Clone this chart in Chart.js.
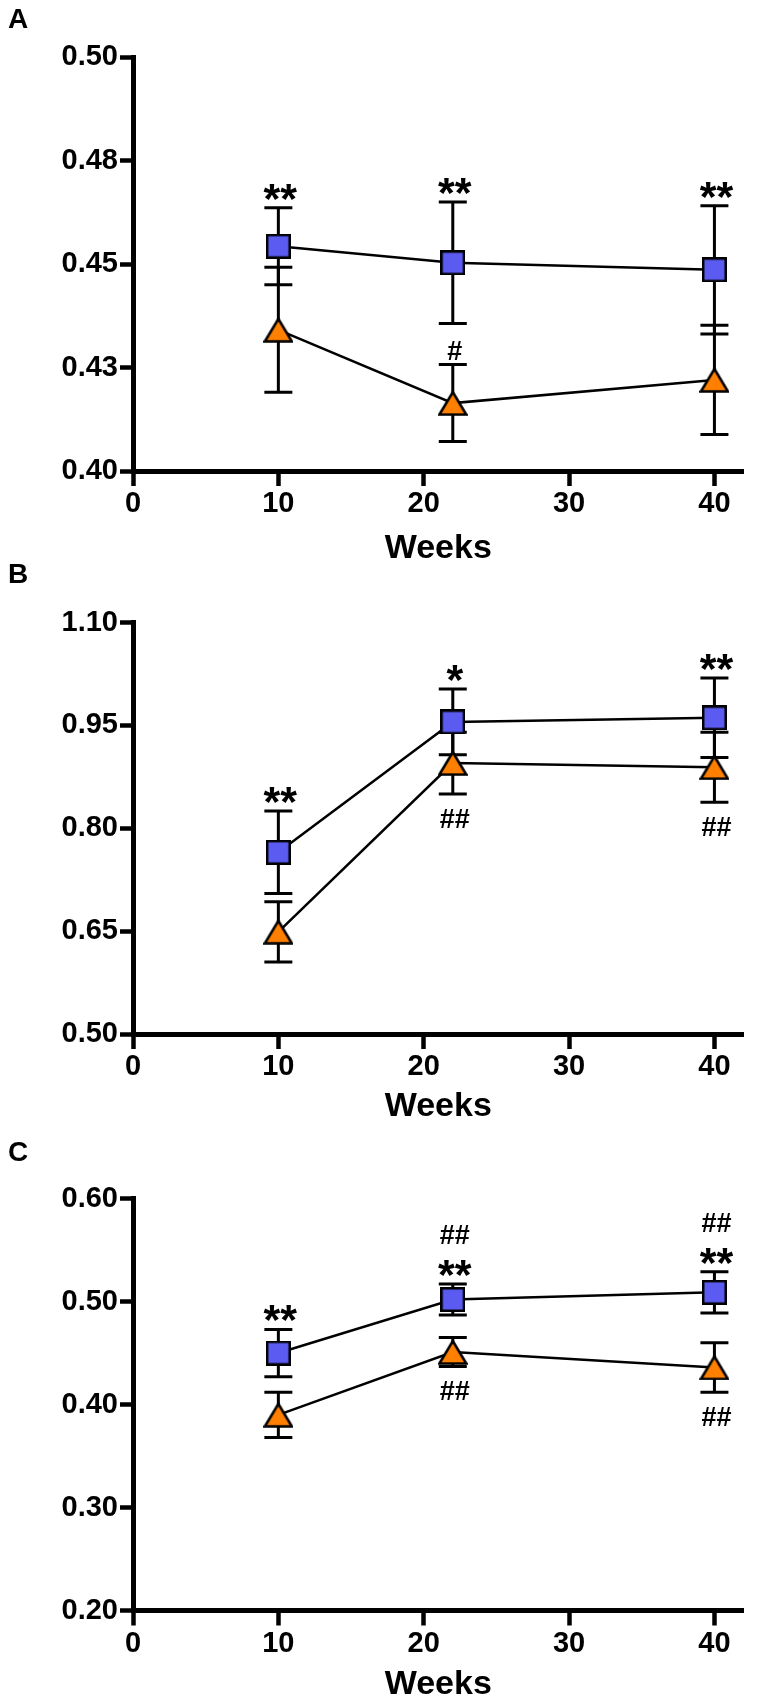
<!DOCTYPE html>
<html lang="en">

<head>
    <meta charset="UTF-8">
    <title>Weeks panels A-C</title>

    <!-- Chart.js for plotting -->
    <script src="https://cdn.jsdelivr.net/npm/chart.js"></script>

    <style>
        body {
            margin: 0;
            background: #fff;
        }

        #page {
            position: relative;
            width: 759px;
            height: 1707px;
            background: #fff;
        }

        canvas {
            position: absolute;
            left: 0;
        }
    </style>
</head>

<body>
    <div id="page">
        <canvas id="chartA" width="759" height="565" style="top:0px"></canvas>
        <canvas id="chartB" width="759" height="566" style="top:560px"></canvas>
        <canvas id="chartC" width="759" height="577" style="top:1130px"></canvas>
    </div>

    <script>
        // shared x values and ticks
        const weeks = [10, 22, 40];
        const xTicks = [0, 10, 20, 30, 40];

        // panel A
        const blueA = [0.4543, 0.4503, 0.4486];
        const blueErrA = [0.0093, 0.0147, 0.0155];
        const orangeA = [0.4341, 0.4164, 0.4220];
        const orangeErrA = [0.0151, 0.0093, 0.0132];
        const yTicksA = [0.40, 0.425, 0.45, 0.475, 0.50];
        const yLabelsA = ['0.40', '0.43', '0.45', '0.48', '0.50'];
        // [point index, series index, side, text]
        const marksA = [[0, 0, 'up', '**'], [1, 0, 'up', '**'], [2, 0, 'up', '**'], [1, 1, 'up', '#']];

        // panel B
        const blueB = [0.765, 0.955, 0.961];
        const blueErrB = [0.060, 0.048, 0.058];
        const orangeB = [0.649, 0.895, 0.889];
        const orangeErrB = [0.044, 0.045, 0.051];
        const yTicksB = [0.50, 0.65, 0.80, 0.95, 1.10];
        const yLabelsB = ['0.50', '0.65', '0.80', '0.95', '1.10'];
        const marksB = [[0, 0, 'up', '**'], [1, 0, 'up', '*'], [2, 0, 'up', '**'], [1, 1, 'down', '##'], [2, 1, 'down', '##']];

        // panel C
        const blueC = [0.450, 0.502, 0.509];
        const blueErrC = [0.023, 0.015, 0.020];
        const orangeC = [0.390, 0.451, 0.436];
        const orangeErrC = [0.022, 0.014, 0.024];
        const yTicksC = [0.20, 0.30, 0.40, 0.50, 0.60];
        const yLabelsC = ['0.20', '0.30', '0.40', '0.50', '0.60'];
        const marksC = [[0, 0, 'up', '**'], [1, 0, 'up', '**'], [1, 0, 'up', '##'], [2, 0, 'up', '**'], [2, 0, 'up', '##'],
                        [1, 1, 'down', '##'], [2, 1, 'down', '##']];

        const FONT = '"Liberation Sans", Arial, sans-serif';
        const BLUE = '#5B5BF2';
        const ORANGE = '#FF8000';
        const marksByChart = { chartA: marksA, chartB: marksB, chartC: marksC };

        // marker images (centred on their bounding box like the original)
        function squareMarker() {
            let c = document.createElement('canvas');
            c.width = 25; c.height = 25;
            let g = c.getContext('2d');
            g.fillStyle = BLUE;
            g.strokeStyle = '#000';
            g.lineWidth = 2.5;
            g.fillRect(1.25, 1.25, 22.5, 22.5);
            g.strokeRect(1.25, 1.25, 22.5, 22.5);
            return c;
        }

        function triangleMarker() {
            let c = document.createElement('canvas');
            c.width = 30; c.height = 26;
            let g = c.getContext('2d');
            g.fillStyle = ORANGE;
            g.strokeStyle = '#000';
            g.lineWidth = 2.5;
            g.lineJoin = 'miter';
            g.beginPath();
            g.moveTo(15, 2);
            g.lineTo(28.5, 24.5);
            g.lineTo(1.5, 24.5);
            g.closePath();
            g.fill();
            g.stroke();
            return c;
        }

        const sq = squareMarker();
        const tri = triangleMarker();

        // error bars under the markers, significance marks on top
        const errorBars = {
            id: 'errbars',
            beforeDatasetsDraw(chart) {
                const ctx = chart.ctx, xs = chart.scales.x, ys = chart.scales.y;
                ctx.save();
                ctx.strokeStyle = '#000';
                ctx.lineWidth = 3;
                chart.data.datasets.forEach(ds => {
                    ds.data.forEach((pt, j) => {
                        let x = xs.getPixelForValue(pt.x);
                        let top = ys.getPixelForValue(pt.y + ds.errors[j]);
                        let bot = ys.getPixelForValue(pt.y - ds.errors[j]);
                        ctx.beginPath();
                        ctx.moveTo(x, top); ctx.lineTo(x, bot);
                        ctx.moveTo(x - 14, top); ctx.lineTo(x + 14, top);
                        ctx.moveTo(x - 14, bot); ctx.lineTo(x + 14, bot);
                        ctx.stroke();
                    });
                });
                ctx.restore();
            },
            afterDatasetsDraw(chart) {
                const ctx = chart.ctx, xs = chart.scales.x, ys = chart.scales.y;
                const marks = marksByChart[chart.canvas.id] || [];
                let anchors = {};
                ctx.save();
                ctx.fillStyle = '#000';
                ctx.textAlign = 'center';
                ctx.textBaseline = 'alphabetic';
                marks.forEach(([p, s, side, text]) => {
                    const ds = chart.data.datasets[s];
                    const pt = ds.data[p];
                    const x = xs.getPixelForValue(pt.x) + 2;
                    const key = p + '-' + s + '-' + side;
                    const isStar = text.indexOf('*') >= 0;
                    ctx.font = isStar ? 'bold 43px ' + FONT : 'bold 27px ' + FONT;
                    const m = ctx.measureText(text);
                    let gap;
                    let anchor = anchors[key];
                    if (anchor === undefined) {
                        anchor = side === 'up'
                            ? ys.getPixelForValue(pt.y + ds.errors[p])
                            : ys.getPixelForValue(pt.y - ds.errors[p]);
                        gap = side === 'up' ? (isStar ? 8 : 5) : 15;
                    } else {
                        gap = 16;
                    }
                    let base;
                    if (side === 'up') {
                        base = anchor - gap - m.actualBoundingBoxDescent;
                        anchors[key] = base - m.actualBoundingBoxAscent;
                    } else {
                        base = anchor + gap + m.actualBoundingBoxAscent;
                        anchors[key] = base + m.actualBoundingBoxDescent;
                    }
                    ctx.fillText(text, x, base);
                });
                ctx.restore();
            }
        };

        function makePanel(id, letter, blue, blueErr, orange, orangeErr, yTicks, yLabels, L) {
            let ctx = document.getElementById(id).getContext('2d');
            return new Chart(ctx, {
                type: 'line',
                data: {
                    datasets: [{
                        data: weeks.map((w, i) => ({ x: w, y: blue[i] })),
                        errors: blueErr,
                        borderColor: '#000',
                        borderWidth: 2.5,
                        pointStyle: sq,
                        pointRadius: 13,
                        tension: 0,
                        clip: false
                    }, {
                        data: weeks.map((w, i) => ({ x: w, y: orange[i] })),
                        errors: orangeErr,
                        borderColor: '#000',
                        borderWidth: 2.5,
                        pointStyle: tri,
                        pointRadius: 13,
                        tension: 0,
                        clip: false
                    }]
                },
                options: {
                    responsive: false,
                    animation: false,
                    events: [],
                    layout: { padding: { left: 8, right: 7, top: 0, bottom: 0 } },
                    plugins: {
                        legend: { display: false },
                        tooltip: { enabled: false },
                        title: {
                            display: true,
                            text: letter,
                            align: 'start',
                            color: '#000',
                            font: { family: FONT, weight: 'bold', size: 28, lineHeight: 1 },
                            padding: { top: L.tTop, bottom: L.tBot }
                        }
                    },
                    scales: {
                        x: {
                            type: 'linear',
                            min: 0,
                            max: 42,
                            afterBuildTicks: s => { s.ticks = xTicks.map(v => ({ value: v })); },
                            afterFit: s => { s.height = L.xH; },
                            grid: { drawOnChartArea: false, drawTicks: true, tickLength: 15, tickWidth: 4.5, tickColor: '#000' },
                            border: { display: true, color: '#000', width: 5 },
                            ticks: {
                                color: '#000',
                                font: { family: FONT, weight: 'bold', size: 29 },
                                padding: 1,
                                maxRotation: 0,
                                autoSkip: false
                            },
                            title: {
                                display: true,
                                text: 'Weeks',
                                color: '#000',
                                font: { family: FONT, weight: 'bold', size: 34, lineHeight: 1 },
                                padding: { top: 0, bottom: L.wPad }
                            }
                        },
                        y: {
                            type: 'linear',
                            min: yTicks[0],
                            max: yTicks[yTicks.length - 1],
                            afterBuildTicks: s => { s.ticks = yTicks.map(v => ({ value: v })); },
                            afterFit: s => { s.width = 125; },
                            grid: { drawOnChartArea: false, drawTicks: true, tickLength: 13, tickWidth: 4.5, tickColor: '#000' },
                            border: { display: true, color: '#000', width: 5 },
                            ticks: {
                                color: '#000',
                                font: { family: FONT, weight: 'bold', size: 29 },
                                padding: 2,
                                autoSkip: false,
                                callback: (v, i) => yLabels[i]
                            }
                        }
                    }
                },
                plugins: [errorBars]
            });
        }

        makePanel('chartA', 'A', blueA, blueErrA, orangeA, orangeErrA, yTicksA, yLabelsA,
            { tTop: 6, tBot: 23, xH: 94, wPad: -1 });
        makePanel('chartB', 'B', blueB, blueErrB, orangeB, orangeErrB, yTicksB, yLabelsB,
            { tTop: 1, tBot: 33.5, xH: 92, wPad: 2 });
        makePanel('chartC', 'C', blueC, blueErrC, orangeC, orangeErrC, yTicksC, yLabelsC,
            { tTop: 9, tBot: 31.6, xH: 96.5, wPad: 5 });
    </script>
</body>

</html>
